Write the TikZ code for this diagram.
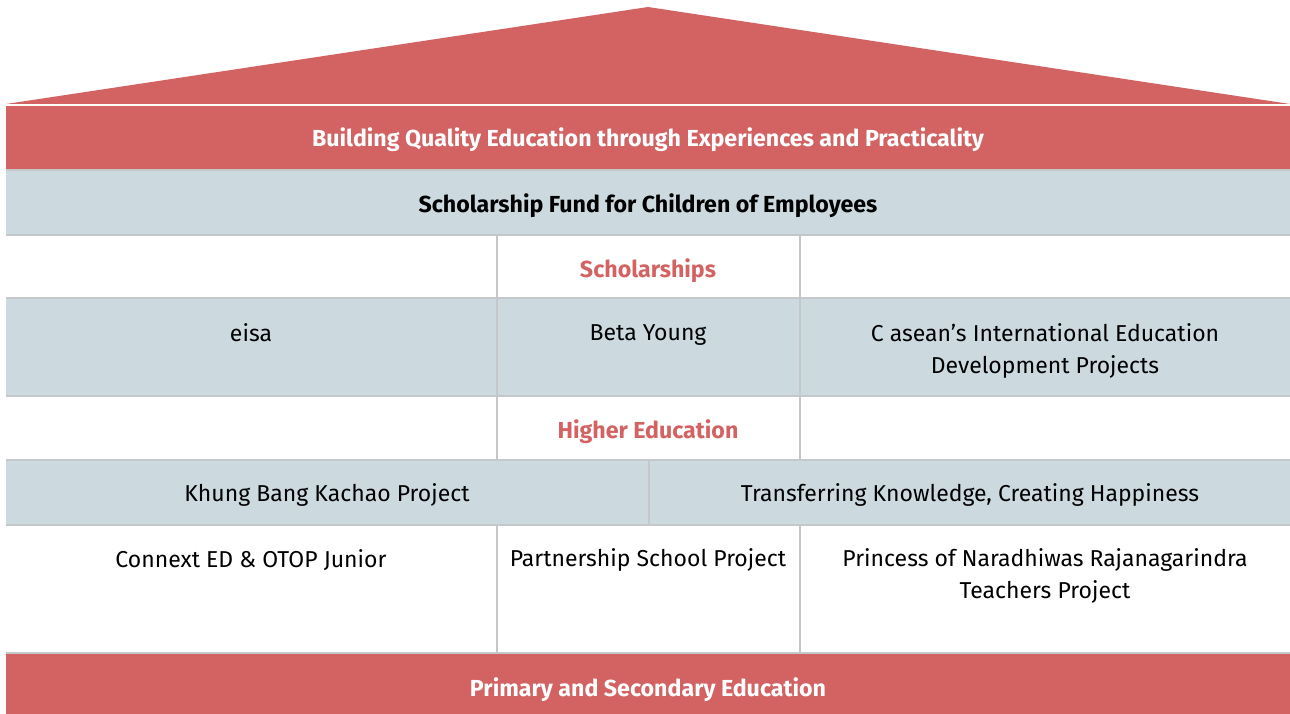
\documentclass[tikz,border=0pt]{standalone}
\usepackage{fontspec}
\setmainfont{Fira Sans}
\definecolor{roofred}{HTML}{D36263}
\definecolor{paleblue}{HTML}{CCDAE0}
\definecolor{gridgray}{HTML}{C4C8CB}
\begin{document}
\begin{tikzpicture}[x=1pt,y=-1pt,
  band/.style={draw=none,inner sep=0pt,outer sep=0pt,anchor=north west},
  grid/.style={draw=gridgray,line width=1.5pt},
  lbl/.style={inner sep=0pt,align=center,font=\fontsize{23}{32}\selectfont,text=black},
  ttl/.style={inner sep=0pt,align=center,font=\fontsize{23.2}{30}\selectfont\bfseries},
]
\useasboundingbox (0,0) rectangle (1290,714);
% roof
\coordinate (roofL) at (6,104);
\coordinate (roofT) at (648,7);
\coordinate (roofR) at (1290,104);
\fill[roofred] (roofL) -- (roofT) -- (roofR) -- cycle;
% bands
\node[band,fill=roofred,minimum width=1284pt,minimum height=64pt] (topband) at (6,106) {};
\node[band,fill=paleblue,minimum width=1284pt,minimum height=65pt] (fundband) at (6,170) {};
\node[band,fill=paleblue,minimum width=1284pt,minimum height=98pt] (schband) at (6,298) {};
\node[band,fill=paleblue,minimum width=1284pt,minimum height=65pt] (khband) at (6,460) {};
\node[band,fill=roofred,minimum width=1284pt,minimum height=61pt] (botband) at (6,653) {};
% grid lines
\draw[grid] (fundband.north west) -- (fundband.north east);
\draw[grid] (fundband.south west) -- (fundband.south east);
\draw[grid] (schband.north west) -- (schband.north east);
\draw[grid] (schband.south west) -- (schband.south east);
\draw[grid] (khband.north west) -- (khband.north east);
\draw[grid] (khband.south west) -- (khband.south east);
\draw[grid] (botband.north west) -- (botband.north east);
\coordinate (c1a) at (497,235); \coordinate (c1b) at (497,460);
\coordinate (c2a) at (800,235); \coordinate (c2b) at (800,460);
\coordinate (c3a) at (649,460); \coordinate (c3b) at (649,525);
\coordinate (c4a) at (497,525); \coordinate (c4b) at (497,653);
\coordinate (c5a) at (800,525); \coordinate (c5b) at (800,653);
\draw[grid] (c1a) -- (c1b);
\draw[grid] (c2a) -- (c2b);
\draw[grid] (c3a) -- (c3b);
\draw[grid] (c4a) -- (c4b);
\draw[grid] (c5a) -- (c5b);
% texts
\node[ttl,text=white] (t1) at (648,140) {Building Quality Education through Experiences and Practicality};
\node[ttl,text=black] (t2) at (648,206) {Scholarship Fund for Children of Employees};
\node[ttl,text=roofred] (t3) at (648,271) {Scholarships};
\node[lbl] (t4) at (251,333) {eisa};
\node[lbl] (t5) at (648,335) {Beta Young};
\node[lbl,anchor=north] (t6) at (1045,323) {C asean’s International Education\\Development Projects};
\node[ttl,text=roofred] (t7) at (648,432) {Higher Education};
\node[lbl] (t8) at (327,495) {Khung Bang Kachao Project};
\node[lbl] (t9) at (970,495) {Transferring Knowledge, Creating Happiness};
\node[lbl] (t10) at (251,560) {Connext ED \& OTOP Junior};
\node[lbl] (t11) at (648,560) {Partnership School Project};
\node[lbl,anchor=north] (t12) at (1045,548) {Princess of Naradhiwas Rajanagarindra\\Teachers Project};
\node[ttl,text=white] (t13) at (648,690) {Primary and Secondary Education};
\end{tikzpicture}
\end{document}
